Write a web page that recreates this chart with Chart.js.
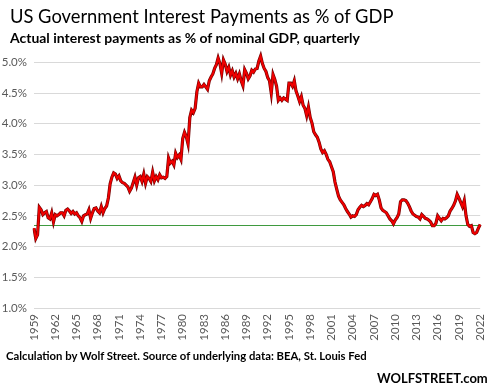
<!DOCTYPE html>
<html>
<head>
<meta charset="utf-8">
<script src="https://cdn.jsdelivr.net/npm/chart.js@4.4.1/dist/chart.umd.min.js"></script>
<style>
  html, body { margin: 0; padding: 0; background: #fff; }
  #wrap { position: relative; width: 500px; height: 390px; overflow: hidden; font-family: Lato, 'Open Sans', sans-serif; color: #000; }
  #wrap canvas { position: absolute; left: 0; top: 0; }
  .txt { position: absolute; white-space: nowrap; line-height: 1; }
  #title { left: 10px; top: 7px; font-size: 20px; }
  #subtitle { left: 10px; top: 31px; font-size: 14px; font-weight: bold; }
  #source { left: 6px; top: 350px; font-size: 13px; font-weight: bold; }
  #brand { left: 377px; top: 372px; font-size: 15px; font-weight: bold; }
</style>
</head>
<body>
<div id="wrap">
  <canvas id="chart" width="500" height="390"></canvas>
  <div class="txt" id="title">US Government Interest Payments as % of GDP</div>
  <div class="txt" id="subtitle">Actual interest payments as % of nominal GDP, quarterly</div>
  <div class="txt" id="source">Calculation by Wolf Street. Source of underlying data: BEA, St. Louis Fed</div>
  <div class="txt" id="brand">WOLFSTREET.com</div>
</div>
<script>
// quarterly data, 1959 Q1 .. 2022 Q1
const startYear = 1959;

// interest payments as % of GDP, four values per year (Q1..Q4)
const interestPct = [
  2.30, 2.13, 2.19, 2.64, // 1959
  2.60, 2.52, 2.55, 2.57, // 1960
  2.47, 2.45, 2.55, 2.40, // 1961
  2.52, 2.50, 2.52, 2.55, // 1962
  2.55, 2.50, 2.59, 2.61, // 1963
  2.58, 2.54, 2.57, 2.53, // 1964
  2.55, 2.50, 2.47, 2.41, // 1965
  2.50, 2.52, 2.53, 2.60, // 1966
  2.46, 2.55, 2.62, 2.63, // 1967
  2.58, 2.55, 2.65, 2.55, // 1968
  2.62, 2.66, 2.79, 3.02, // 1969
  3.13, 3.20, 3.18, 3.11, // 1970
  3.15, 3.07, 3.04, 3.03, // 1971
  3.00, 2.97, 2.90, 2.95, // 1972
  3.04, 3.13, 3.00, 3.12, // 1973
  3.14, 3.06, 3.18, 3.03, // 1974
  3.14, 3.11, 3.06, 3.21, // 1975
  3.07, 3.14, 3.09, 3.17, // 1976
  3.12, 3.13, 3.11, 3.14, // 1977
  3.44, 3.36, 3.39, 3.33, // 1978
  3.52, 3.45, 3.49, 3.42, // 1979
  3.76, 3.86, 3.79, 3.67, // 1980
  4.10, 4.22, 4.18, 4.25, // 1981
  4.52, 4.66, 4.60, 4.60, // 1982
  4.64, 4.60, 4.56, 4.70, // 1983
  4.76, 4.81, 4.90, 4.96, // 1984
  5.07, 4.98, 4.82, 5.04, // 1985
  4.97, 4.85, 4.92, 4.79, // 1986
  4.86, 4.76, 4.82, 4.73, // 1987
  4.81, 4.70, 4.62, 4.88, // 1988
  4.82, 4.73, 4.78, 4.87, // 1989
  4.84, 4.89, 4.90, 5.02, // 1990
  5.10, 4.98, 4.90, 4.85, // 1991
  4.75, 4.70, 4.50, 4.80, // 1992
  4.72, 4.61, 4.38, 4.42, // 1993
  4.38, 4.42, 4.40, 4.38, // 1994
  4.66, 4.66, 4.61, 4.70, // 1995
  4.53, 4.45, 4.36, 4.44, // 1996
  4.30, 4.25, 4.13, 4.27, // 1997
  4.10, 4.01, 3.87, 3.82, // 1998
  3.78, 3.70, 3.59, 3.53, // 1999
  3.56, 3.50, 3.42, 3.38, // 2000
  3.30, 3.22, 3.05, 2.93, // 2001
  2.82, 2.76, 2.72, 2.68, // 2002
  2.62, 2.57, 2.53, 2.48, // 2003
  2.50, 2.49, 2.52, 2.60, // 2004
  2.64, 2.67, 2.65, 2.67, // 2005
  2.70, 2.68, 2.73, 2.78, // 2006
  2.85, 2.83, 2.85, 2.76, // 2007
  2.63, 2.59, 2.57, 2.55, // 2008
  2.50, 2.45, 2.42, 2.37, // 2009
  2.43, 2.47, 2.53, 2.73, // 2010
  2.76, 2.76, 2.75, 2.71, // 2011
  2.65, 2.58, 2.53, 2.51, // 2012
  2.49, 2.48, 2.45, 2.52, // 2013
  2.49, 2.46, 2.45, 2.43, // 2014
  2.40, 2.34, 2.34, 2.38, // 2015
  2.50, 2.46, 2.42, 2.46, // 2016
  2.45, 2.47, 2.50, 2.58, // 2017
  2.62, 2.67, 2.74, 2.85, // 2018
  2.79, 2.72, 2.65, 2.75, // 2019
  2.50, 2.36, 2.33, 2.34, // 2020
  2.23, 2.21, 2.23, 2.30, // 2021
  2.36                    // 2022 Q1
];

// latest level, drawn as the green reference line
const currentLevel = 2.35;

const yTickValues = [1.0, 1.5, 2.0, 2.5, 3.0, 3.5, 4.0, 4.5, 5.0];
const tickYears = [1959, 1962, 1965, 1968, 1971, 1974, 1977, 1980, 1983, 1986, 1989,
  1992, 1995, 1998, 2001, 2004, 2007, 2010, 2013, 2016, 2019, 2022];

const quarterLabels = interestPct.map((v, i) => (startYear + Math.floor(i / 4)) + ' Q' + (i % 4 + 1));

// squeeze the header/footer text to the widths in the original
function fitWidth(id, target) {
  const el = document.getElementById(id);
  const size = parseFloat(getComputedStyle(el).fontSize);
  el.style.fontSize = (size * target / el.offsetWidth).toFixed(2) + 'px';
}

const refLine = {
  id: 'refLine',
  beforeDatasetsDraw(chart) {
    const { ctx, chartArea, scales } = chart;
    const py = Math.round(scales.y.getPixelForValue(currentLevel)) + 0.5;
    ctx.save();
    ctx.strokeStyle = '#3f9a3f';
    ctx.lineWidth = 1;
    ctx.beginPath();
    ctx.moveTo(chartArea.left, py);
    ctx.lineTo(chartArea.right, py);
    ctx.stroke();
    ctx.restore();
  }
};

document.fonts.ready.then(() => {
  fitWidth('title', 383);
  fitWidth('subtitle', 350);
  fitWidth('source', 361);
  fitWidth('brand', 111);

  const tickFont = { family: 'Lato', size: 11.5 };

  new Chart(document.getElementById('chart'), {
    type: 'line',
    data: {
      labels: quarterLabels,
      datasets: [{
        data: interestPct,
        borderColor: '#f00000',
        borderWidth: 2,
        pointRadius: 0,
        tension: 0,
        order: 0
      }, {
        // dark edge under the red line
        data: interestPct,
        borderColor: '#700000',
        borderWidth: 3.2,
        pointRadius: 0,
        tension: 0,
        order: 1
      }]
    },
    options: {
      responsive: false,
      animation: false,
      layout: { padding: { top: 50, right: 15, bottom: 0, left: 0 } },
      plugins: {
        legend: { display: false },
        tooltip: { enabled: false }
      },
      scales: {
        x: {
          type: 'category',
          grid: { display: false, drawTicks: false },
          border: { display: false },
          ticks: {
            autoSkip: false,
            maxRotation: 90,
            minRotation: 90,
            padding: 6,
            color: '#595959',
            font: { family: 'Lato', size: 11.5 },
            callback: function(val) {
              const lbl = this.getLabelForValue(val);
              const yr = parseInt(lbl, 10);
              return lbl.endsWith('Q1') && tickYears.includes(yr) ? String(yr) : null;
            }
          },
          afterFit: s => { s.height = 82; }
        },
        y: {
          min: 1.0,
          max: 5.2,
          afterBuildTicks: s => { s.ticks = yTickValues.map(v => ({ value: v })); },
          grid: { color: '#d9d9d9', lineWidth: 1, drawTicks: false },
          border: { display: false },
          ticks: {
            padding: 7,
            color: '#595959',
            font: tickFont,
            callback: v => v.toFixed(1) + '%'
          },
          afterFit: s => { s.width = 34; }
        }
      }
    },
    plugins: [refLine]
  });
});
</script>
</body>
</html>
